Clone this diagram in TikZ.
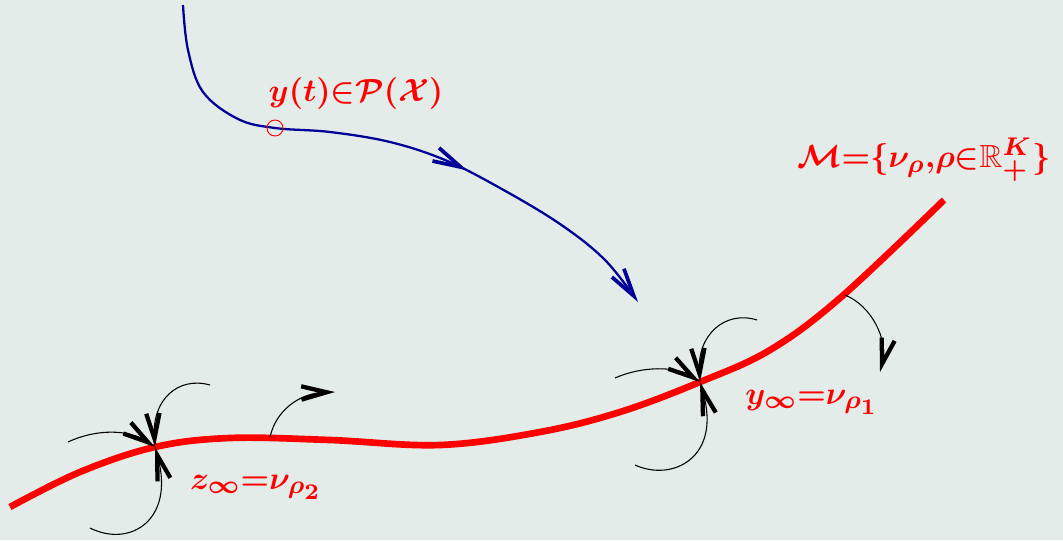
\documentclass[tikz,border=0pt]{standalone}
\usepackage{amsmath,amssymb,bm,graphicx}
\usetikzlibrary{arrows.meta,decorations.markings}
\DeclareMathSizes{10}{10}{8}{7}
\definecolor{bgc}{RGB}{227,236,232}
\definecolor{navy}{RGB}{0,0,150}
\tikzset{
  manifold/.style={red,line width=5pt},
  traj/.style={navy,line width=1.7pt},
  bluetip/.tip={Straight Barb[length=21pt,width=11pt,line width=2.8pt]},
  flow/.style={black,line width=0.8pt,-{Straight Barb[length=19pt,width=10pt,line width=3.2pt]}},
  lbl/.style={red,inner sep=0pt},
}
\newcommand{\biglbl}[1]{\scalebox{2.4}{\boldmath$#1$}}
\begin{document}
\begin{tikzpicture}[x=0.75pt,y=-0.75pt]
\fill[bgc] (0,0) rectangle (1063,540);
\useasboundingbox (0,0) rectangle (1063,540);
% points
\coordinate (A) at (155,447);
\coordinate (B) at (700,382);
% manifold
\draw[manifold] plot[smooth,tension=0.6] coordinates {(10,507) (80,472) (155,447) (230,438) (330,440) (440,445) (540,432) (620,412) (700,382) (770,350) (840,298) (944,200)};
% trajectory
\draw[traj,-bluetip,
  postaction={decorate},
  decoration={markings,mark=at position 0.63 with {\arrow{bluetip}}}]
  plot[smooth,tension=0.6] coordinates {(183,5) (188,50) (203,92) (238,119) (275,128) (330,132) (390,142) (445,160) (500,188) (560,224) (605,260) (638,302)};
\node[draw=red,circle,minimum size=12pt,inner sep=0pt,line width=0.7pt] (yt) at (275,128) {};
% flows at A
\draw[flow] (68,442) .. controls (98,428) and (130,430) .. (A);
\draw[flow] (210,385) .. controls (178,376) and (152,400) .. (A);
\draw[flow] (90,528) .. controls (130,548) and (175,520) .. (A);
\draw[flow] (270,437) .. controls (276,410) and (300,393) .. (335,392);
% flows at B
\draw[flow] (615,378) .. controls (642,366) and (676,366) .. (B);
\draw[flow] (757,320) .. controls (725,310) and (697,335) .. (B);
\draw[flow] (635,465) .. controls (672,482) and (722,458) .. (B);
\draw[flow] (845,295) .. controls (872,306) and (888,340) .. (880,372);
% labels
\node[lbl] (ly) at (356,93) {\biglbl{y(t){\in}\mathcal{P}(\mathcal{X})}};
\node[lbl] (lM) at (924,160) {\biglbl{\mathcal{M}{=}\{\nu_\rho{,}\rho{\in}\mathbb{R}_+^K\}}};
\node[lbl] (lB) at (812,402) {\biglbl{y_\infty{=}\nu_{\rho_1}}};
\node[lbl] (lA) at (256,487) {\biglbl{z_\infty{=}\nu_{\rho_2}}};
\end{tikzpicture}
\end{document}
